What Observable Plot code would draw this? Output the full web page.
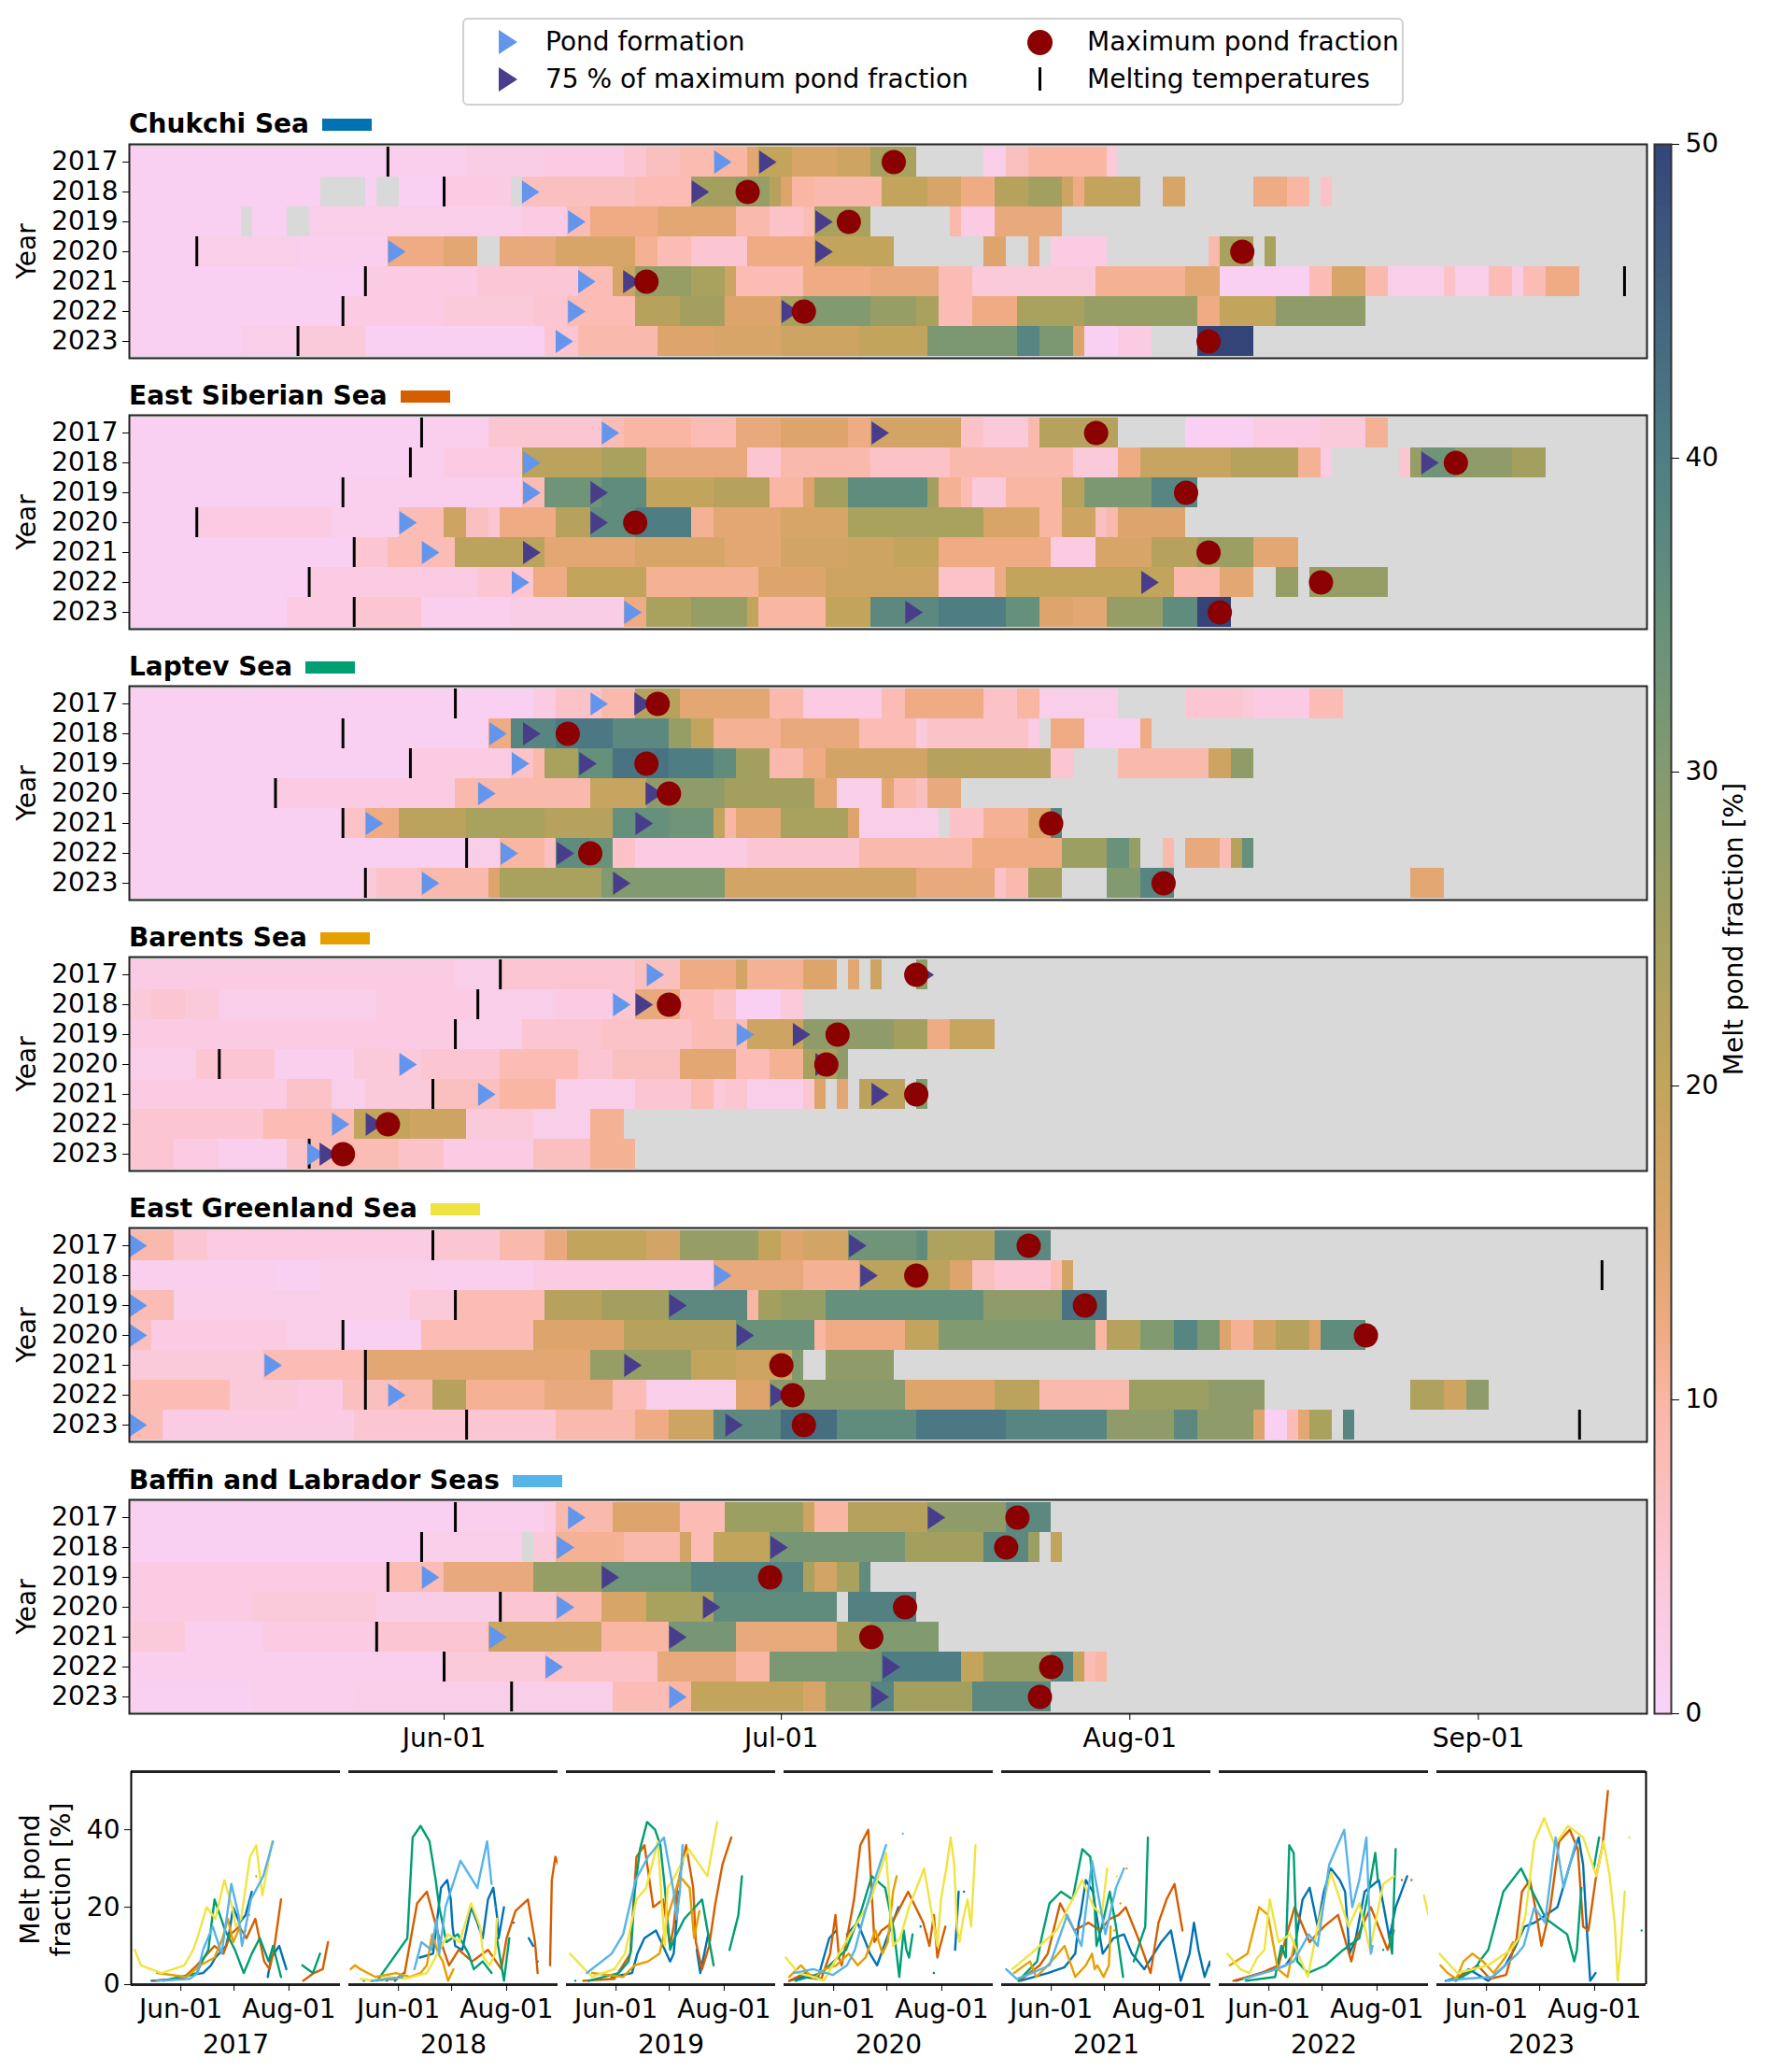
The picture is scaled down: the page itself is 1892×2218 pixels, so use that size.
<!DOCTYPE html>
<html><head><meta charset="utf-8">
<script src="https://cdn.jsdelivr.net/npm/d3@7"></script>
<script src="https://cdn.jsdelivr.net/npm/@observablehq/plot@0.6"></script>
<style>
html,body{margin:0;padding:0;background:#fff}
#page{position:relative;width:1892px;height:2218px;font-family:"DejaVu Sans",sans-serif;color:#000;overflow:hidden}
#page svg{position:absolute;max-width:none;background:none}
.title{position:absolute;left:138px;font-weight:700;font-size:28px;line-height:32px;white-space:nowrap;display:flex;align-items:center}
.swatch{display:inline-block;width:53px;height:13px;margin-left:14px}
#legend{position:absolute;left:495px;top:19px;width:1004px;height:90px;border:2px solid #d0d0d0;border-radius:6px;box-sizing:content-box}
.li{position:absolute;font-size:28px;line-height:32px;white-space:nowrap}
.tri{position:absolute;width:20px;height:26px;clip-path:polygon(0 0,100% 50%,0 100%)}
.circ{position:absolute;width:27px;height:27px;border-radius:50%;background:#8b0000}
.bar{position:absolute;width:3px;height:25px;background:#000}
</style></head><body><div id="page"></div>
<script>
const years = [2017,2018,2019,2020,2021,2022,2023];
const seaNames = ["Chukchi Sea","East Siberian Sea","Laptev Sea","Barents Sea","East Greenland Sea","Baffin and Labrador Seas"];
const seaColors = ["#0072B2","#D55E00","#009E73","#E69F00","#F0E442","#56B4E9"];
const colorStops = [0,5,10,12,15,20,25,30,35,40,45,50];
const colorValues = ["#f8d3f9","#fbc6d2","#f9b6a2","#eeab84","#dda56c","#c2a45c","#a3a05f","#829a70","#64907c","#4f7d84","#41637f","#344479"];
const dayTicks = [28,58,89,120];
const dayLabels = ["Jun-01","Jul-01","Aug-01","Sep-01"];
const _ = null;

// each row: [startDay, pond fraction] runs, closed by a last [endDay, null]
const chukchiRuns = [
[[0,1],[23,1.5],[30,2.5],[37,3],[44,5],[46,7],[49,8.5],[52,10],[55,14],[56,20],[59,16],[63,18],[66,24],[70,_],[76,2],[78,7],[80,10],[87,4],[88,_]],
[[0,1],[17,_],[21,1],[22,_],[24,1],[28,3],[34,_],[35,7],[45,8],[50,25],[54,27],[57,22],[58,15],[59,10],[61,9],[67,20],[71,16],[74,12],[77,22],[80,25],[83,18],[84,12],[85,20],[90,_],[92,16],[94,_],[100,12],[103,10],[105,_],[106,6],[107,_]],
[[0,1],[10,_],[11,1],[14,_],[16,2],[35,3],[39,8],[41,12],[47,14],[54,9],[57,6],[60,8],[61,24],[66,_],[73,9],[74,3],[77,13],[83,_]],
[[0,1],[6,2],[15,1.5],[23,12],[28,14],[31,_],[33,13],[38,16],[45,11],[47,8],[50,5],[55,12],[61,20],[68,_],[76,15],[78,_],[80,13],[81,_],[82,3],[87,_],[96,9],[97,24],[100,_],[101,24],[102,_]],
[[0,1],[21,3],[31,4.5],[40,8],[43,16],[44,18],[45,27],[50,24],[53,18],[54,8],[60,12],[66,13],[72,8],[75,4],[86,11],[94,14],[97,1],[105,8],[107,16],[110,9],[112,2],[117,6],[118,2],[121,8],[123,3],[124,8],[126,12],[129,_]],
[[0,1],[19,3],[28,4],[36,5],[39,8],[45,22],[49,25],[53,15],[58,24],[60,30],[66,27],[70,24],[72,8],[75,12],[79,24],[85,27],[95,12],[97,20],[102,28],[110,_]],
[[0,1],[10,2],[15,4],[21,1],[37,5],[40,9],[47,15],[52,16],[58,18],[65,20],[71,31],[79,38],[81,31],[84,15],[85,1],[88,3],[91,_],[95,58],[100,_]]
];
const eastSiberianRuns = [
[[0,1],[26,1.5],[32,5],[42,8],[44,10],[50,8],[54,13],[58,15],[64,12],[66,17],[74,6],[76,4],[80,9],[81,22],[88,_],[94,1],[100,3],[106,4],[110,11],[112,_]],
[[0,1],[25,1.5],[28,3],[35,21],[42,24],[46,13],[55,5],[58,9],[66,6],[73,9],[84,4],[88,12],[90,19],[98,22],[104,11],[106,3],[107,_],[113,5],[114,27],[115,33],[118,28],[123,25],[126,_]],
[[0,1],[19,1.5],[35,8],[37,33],[42,36],[46,20],[52,22],[57,10],[60,15],[61,25],[64,36],[71,25],[72,11],[74,8],[75,4],[78,10],[83,21],[85,31],[91,38],[95,_]],
[[0,1],[6,3],[18,1.5],[24,8],[28,18],[30,7],[32,5],[33,12],[38,22],[41,36],[45,40],[50,11],[52,14],[58,16],[64,24],[76,16],[81,10],[83,18],[86,7],[87,9],[88,15],[94,_]],
[[0,1],[20,5],[23,8],[29,21],[37,14],[45,16],[53,14],[58,17],[64,18],[68,20],[72,12],[82,3],[86,16],[91,22],[95,26],[100,14],[104,_]],
[[0,1],[16,3],[31,5],[36,12],[39,20],[46,11],[56,15],[62,18],[72,6],[77,12],[78,20],[93,9],[97,14],[100,_],[102,27],[104,_],[105,27],[112,_]],
[[0,1],[14,3],[20,5],[26,1.5],[34,2.5],[44,12],[46,24],[50,27],[55,20],[56,10],[62,20],[66,37],[72,40],[78,35],[81,15],[84,14],[87,27],[92,36],[95,50],[98,_]]
];
const laptevRuns = [
[[0,1],[36,3],[38,6],[42,9],[45,22],[49,14],[57,9],[60,3],[67,8],[69,12],[76,6],[79,10],[81,2],[88,_],[94,5],[99,4],[100,3],[105,8],[108,_]],
[[0,1],[32,12],[34,38],[38,41],[43,37],[48,27],[50,20],[52,11],[58,13],[65,8],[70,4],[71,6],[80,3],[81,_],[82,12],[85,1],[90,12],[91,_]],
[[0,1],[25,3],[34,6],[36,9],[37,24],[40,35],[43,42],[48,40],[52,36],[54,25],[57,9],[60,12],[62,17],[71,22],[82,5],[84,_],[88,9],[96,18],[98,28],[100,_]],
[[0,1],[13,3],[29,9],[41,19],[46,28],[53,25],[61,14],[63,2],[67,14],[68,9],[70,7],[71,13],[74,_]],
[[0,1],[19,6],[21,12],[24,21],[30,24],[37,22],[43,35],[48,33],[52,20],[53,10],[54,14],[58,24],[64,15],[65,2],[72,_],[73,6],[76,11],[80,15],[82,38],[83,_]],
[[0,1],[30,2],[33,10],[37,7],[38,36],[41,34],[43,6],[45,3],[55,5],[65,9],[75,12],[83,26],[87,34],[89,27],[90,_],[92,9],[93,_],[94,13],[97,8],[98,22],[99,35],[100,_]],
[[0,1],[21,4],[22,6],[26,9],[32,15],[33,24],[42,30],[53,17],[70,13],[77,6],[78,9],[80,25],[83,_],[87,30],[90,38],[93,_],[114,14],[117,_]]
];
const barentsRuns = [
[[0,3],[29,2],[33,5],[45,7],[49,12],[54,17],[55,11],[60,15],[63,_],[64,14],[65,_],[66,18],[67,_],[70,28],[71,_]],
[[0,4],[2,5],[5,4],[8,2],[22,3],[31,2],[38,3],[43,5],[45,13],[49,8],[52,6],[54,1],[58,4],[60,_]],
[[0,3],[29,2],[35,5],[42,6],[50,8],[55,18],[60,28],[68,25],[71,12],[73,19],[77,_]],
[[0,2],[6,5],[13,1.5],[20,4],[26,5],[33,8],[40,5],[43,7],[49,14],[54,8],[57,11],[60,24],[63,28],[64,_]],
[[0,3],[14,6],[18,2],[21,4],[27,7],[33,10],[38,2],[45,5],[50,8],[52,4],[53,5],[55,2],[60,5],[61,15],[62,_],[63,14],[64,_],[65,21],[69,_],[70,30],[71,_]],
[[0,5],[12,8],[20,20],[25,18],[30,4],[36,2],[41,11],[44,_]],
[[0,5],[4,3],[8,1.5],[14,6],[16,8],[24,6],[28,3],[36,7],[41,11],[45,_]]
];
const eastGreenlandRuns = [
[[0,9],[4,5],[7,3],[27,5],[33,9],[37,13],[39,20],[46,17],[49,27],[56,20],[58,15],[60,17],[64,33],[70,36],[71,23],[77,37],[82,_]],
[[0,1.5],[13,1],[17,2],[27,1.5],[36,3],[52,13],[60,11],[65,21],[73,15],[75,7],[77,5],[82,8],[83,17],[84,_]],
[[0,8],[4,2],[25,4],[29,8],[37,22],[42,25],[48,37],[55,10],[56,25],[58,27],[62,35],[76,28],[83,42],[87,_]],
[[0,7],[2,3],[14,2],[19,1],[26,8],[36,15],[44,22],[54,34],[61,10],[62,12],[69,20],[72,30],[86,10],[87,22],[90,30],[93,38],[95,31],[97,15],[98,11],[100,17],[102,22],[105,15],[106,36],[110,_]],
[[0,4],[12,8],[21,14],[41,27],[50,20],[54,18],[59,30],[60,_],[62,28],[68,_]],
[[0,8],[9,4],[15,3],[19,7],[24,9],[27,22],[30,11],[37,13],[43,8],[46,2],[54,15],[57,29],[69,15],[77,21],[81,9],[89,26],[96,28],[101,_],[114,23],[117,18],[119,28],[121,_]],
[[0,8],[3,3],[20,5],[38,9],[45,12],[48,18],[52,37],[58,43],[63,36],[70,41],[78,38],[87,28],[93,37],[95,28],[100,15],[101,1],[103,8],[104,14],[105,24],[107,_],[108,38],[109,_]]
];
const baffinRuns = [
[[0,1],[29,1.5],[37,3],[38,9],[43,15],[49,8],[53,26],[60,18],[61,10],[64,22],[71,28],[78,37],[82,_]],
[[0,1],[26,2],[35,_],[36,4],[38,11],[44,9],[49,17],[50,8],[52,20],[57,32],[69,25],[76,37],[80,26],[81,_],[82,20],[83,_]],
[[0,3],[23,8],[28,13],[36,27],[42,33],[50,38],[60,24],[61,17],[63,24],[65,36],[66,_]],
[[0,3],[11,4],[22,2.5],[33,5],[38,9],[42,16],[46,24],[52,36],[63,_],[64,39],[70,_]],
[[0,4],[5,1.5],[12,3],[22,5],[32,18],[42,10],[48,32],[54,13],[63,25],[66,30],[72,_]],
[[0,1.5],[28,4],[37,6],[47,13],[54,10],[57,31],[67,40],[74,20],[76,27],[82,38],[84,20],[85,8],[86,10],[87,_]],
[[0,1],[11,1.5],[20,2],[43,8],[48,10],[50,20],[60,16],[62,27],[66,38],[68,25],[75,37],[82,_]]
];
const allRuns = [chukchiRuns,eastSiberianRuns,laptevRuns,barentsRuns,eastGreenlandRuns,baffinRuns];

// [year, day] pairs
const meltDays = [
[[2017,23],[2018,28],[2020,6],[2021,21],[2021,133],[2022,19],[2023,15]],
[[2017,26],[2018,25],[2019,19],[2020,6],[2021,20],[2022,16],[2023,20]],
[[2017,29],[2018,19],[2019,25],[2020,13],[2021,19],[2022,30],[2023,21]],
[[2017,33],[2018,31],[2019,29],[2020,8],[2021,27],[2023,16]],
[[2017,27],[2018,131],[2019,29],[2020,19],[2021,21],[2022,21],[2023,30],[2023,129]],
[[2017,29],[2018,26],[2019,23],[2020,33],[2021,22],[2022,28],[2023,34]]
];
const formationDays = [
[52.8,35.7,39.8,23.8,40.7,39.8,38.7],
[42.8,35.8,35.8,24.8,26.8,34.8,44.8],
[41.8,32.8,34.8,31.8,21.8,33.8,26.8],
[46.8,43.8,54.8,24.8,31.8,18.8,16.6],
[0.8,52.8,0.8,0.8,12.8,23.8,0.8],
[39.8,38.8,26.8,38.8,32.8,37.8,48.8]
];
const seventyFiveDays = [
[56.8,50.8,61.8,61.8,44.7,58.8,_],
[66.8,115.7,41.8,41.8,35.8,90.8,69.8],
[45.7,35.8,40.8,46.7,45.8,38.8,43.8],
[70.8,45.8,59.8,61.8,66.8,21.8,17.7],
[64.8,65.8,48.8,54.8,44.8,57.8,53.8],
[71.8,57.8,42.8,51.8,48.8,67.8,66.8]
];
const maxDays = [
[68,55,64,99,46,60,96],
[86,118,94,45,96,106,97],
[47,39,46,48,82,41,92],
[70,48,63,62,70,23,19],
[80,70,85,110,58,59,60],
[79,78,57,69,66,82,81]
];

const panelTops = [154,444,734,1024,1314,1605];
const FONT = "DejaVu Sans, sans-serif";
const page = document.getElementById("page");
const colorScale = {type:"linear",domain:colorStops,range:colorValues,clamp:true};
const rightTriangle = {draw(ctx,size){const r=Math.sqrt(size/Math.PI);const w=r*0.75,h=r;ctx.moveTo(-w,-h);ctx.lineTo(w,0);ctx.lineTo(-w,h);ctx.closePath();}};

function place(svg,top,left=0){svg.style.top=top+"px";svg.style.left=left+"px";page.appendChild(svg);}

function expand(runs){ // the runs of one row as bars
  const out=[];
  for(let i=0;i<runs.length-1;i++) if(runs[i][1]!==null) out.push({d1:runs[i][0],d2:runs[i+1][0],v:runs[i][1]});
  return out;
}

seaNames.forEach((name,s)=>{
  const top=panelTops[s];
  const bars=allRuns[s].flatMap((row,r)=>expand(row).map(b=>({...b,year:years[r]})));
  const m=meltDays[s].map(([year,day])=>({year,day}));
  const rows=k=>k.map((day,r)=>({year:years[r],day})).filter(d=>d.day!==null);
  const last=s===5;
  const svg=Plot.plot({
    width:1892,height:229+4+(last?70:4),
    marginLeft:138,marginRight:129,marginTop:4,marginBottom:last?70:4,
    style:{fontFamily:FONT,fontSize:"28px",background:"none",overflow:"visible"},
    x:{domain:[0,135],axis:null},
    y:{type:"band",domain:years,padding:0},
    color:colorScale,
    marks:[
      Plot.frame({fill:"#d9d9d9",stroke:"none"}),
      Plot.barX(bars,{x1:"d1",x2:"d2",y:"year",fill:"v",shapeRendering:"crispEdges",inset:0}),
      Plot.tickX(m,{x:"day",y:"year",stroke:"#000",strokeWidth:3}),
      Plot.dot(rows(formationDays[s]),{x:"day",y:"year",symbol:rightTriangle,r:12.5,fill:"#6495ED",stroke:"none"}),
      Plot.dot(rows(seventyFiveDays[s]),{x:"day",y:"year",symbol:rightTriangle,r:12.5,fill:"#483D8B",stroke:"none"}),
      Plot.dot(rows(maxDays[s]),{x:"day",y:"year",r:13,fill:"#8B0000",stroke:"none"}),
      Plot.frame({stroke:"#222",strokeWidth:2}),
      Plot.axisY({anchor:"left",tickSize:7,tickPadding:5,tickFormat:d=>String(d),label:"Year",labelAnchor:"center",labelArrow:"none",labelOffset:120,fontVariant:"normal",stroke:"#000",strokeOpacity:1}),
      ...(last?[Plot.axisX({anchor:"bottom",ticks:dayTicks,tickFormat:d=>dayLabels[dayTicks.indexOf(d)],tickSize:7,tickPadding:9,label:null,fontVariant:"normal",strokeOpacity:1})]:[])
    ]
  });
  place(svg,top-4);
  const t=document.createElement("div");
  t.className="title";t.style.top=(top-(s===0?37:36))+"px";t.textContent=name;
  const sw=document.createElement("span");sw.className="swatch";sw.style.background=seaColors[s];t.appendChild(sw);
  page.appendChild(t);
});

// colour bar
const barSteps=d3.range(0,50,0.25).map(v=>({v}));
place(Plot.plot({
  width:1892,height:1680+8,marginLeft:1771,marginRight:103,marginTop:4,marginBottom:4,
  style:{fontFamily:FONT,fontSize:"28px",background:"none",overflow:"visible"},
  x:{domain:[0,1],axis:null},
  y:{domain:[0,50]},
  color:colorScale,
  marks:[
    Plot.rect(barSteps,{x1:()=>0,x2:()=>1,y1:"v",y2:d=>d.v+0.25,fill:"v",shapeRendering:"crispEdges"}),
    Plot.frame({stroke:"#333",strokeWidth:2}),
    Plot.axisY({anchor:"right",ticks:[0,10,20,30,40,50],tickSize:8,tickPadding:7,label:"Melt pond fraction [%]",labelAnchor:"center",labelArrow:"none",labelOffset:76,fontVariant:"normal",strokeOpacity:1})
  ]
}),150);

// yearly line panels: the six seas, from the same runs
const linePoints=[];
allRuns.forEach((rows,s)=>rows.forEach((row,r)=>{
  for(let i=0;i<row.length-1;i++){
    linePoints.push({sea:seaNames[s],year:years[r],day:(row[i][0]+row[i+1][0])/2,v:row[i][1]});
  }
}));
place(Plot.plot({
  width:1892,height:228+100+4,marginLeft:138,marginRight:128,marginTop:4,marginBottom:100,
  style:{fontFamily:FONT,fontSize:"28px",background:"none",overflow:"visible"},
  fx:{domain:years,paddingInner:0.04,paddingOuter:0,label:null},
  x:{domain:[0,118],axis:null},
  y:{domain:[0,55]},
  color:{domain:seaNames,range:seaColors},
  marks:[
    Plot.ruleY([0,55],{stroke:"#222",strokeWidth:3}),
    Plot.line(linePoints,{x:"day",y:"v",z:d=>d.sea+d.year,fx:"year",stroke:"sea",strokeWidth:2.4,clip:true,curve:"linear"}),
    Plot.ruleX([{year:2017}],{x:()=>0,fx:"year",stroke:"#000",strokeWidth:2}),
    Plot.ruleX([{year:2023}],{x:()=>118,fx:"year",stroke:"#000",strokeWidth:2}),
    Plot.axisX({anchor:"bottom",ticks:dayTicks.slice(0,3),tickFormat:d=>d===58?"":dayLabels[dayTicks.indexOf(d)],tickSize:7,tickPadding:9,label:null,fontVariant:"normal",strokeOpacity:1}),
    Plot.axisFx({anchor:"bottom",tickSize:0,tickPadding:54,tickFormat:d=>String(d),label:null,fontVariant:"normal"}),
    Plot.axisY({anchor:"left",ticks:[0,20,40],tickSize:7,tickPadding:5,label:null,fontVariant:"normal",strokeOpacity:1})
  ]
}),1892);

// line panel y label
const yl=document.createElement("div");
yl.style.cssText="position:absolute;left:30px;top:2012px;width:0;height:0;font-size:28px;line-height:33px;text-align:center;white-space:nowrap";
yl.innerHTML='<div style="position:absolute;transform:translate(-50%,-50%) rotate(-90deg);left:19px;top:0">Melt pond<br>fraction [%]</div>';
page.appendChild(yl);

// legend
const lg=document.createElement("div");lg.id="legend";
lg.innerHTML=`
<span class="tri" style="left:37px;top:11px;background:#6495ED"></span><span class="li" style="left:87px;top:8px">Pond formation</span>
<span class="tri" style="left:37px;top:51px;background:#483D8B"></span><span class="li" style="left:87px;top:48px">75 % of maximum pond fraction</span>
<span class="circ" style="left:603px;top:11px"></span><span class="li" style="left:667px;top:8px">Maximum pond fraction</span>
<span class="bar" style="left:615px;top:51px"></span><span class="li" style="left:667px;top:48px">Melting temperatures</span>`;
page.appendChild(lg);
</script></body></html>
